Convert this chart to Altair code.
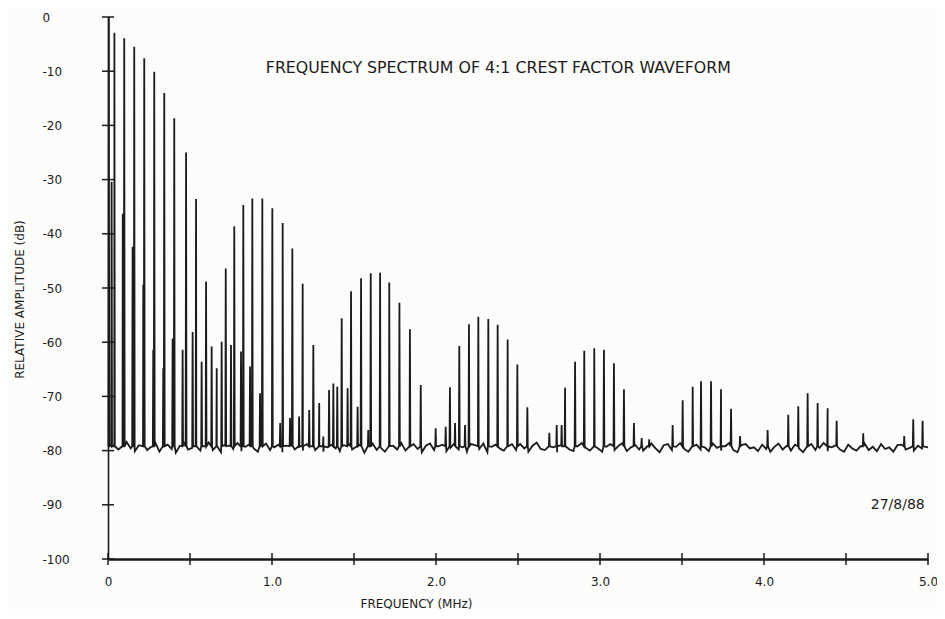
import altair as alt
import pandas as pd

# ---- data -------------------------------------------------------------------
spike_freq = [0.005, 0.022, 0.039, 0.090, 0.099, 0.150, 0.160, 0.215, 0.221, 0.276,
              0.282, 0.337, 0.343, 0.394, 0.404, 0.455, 0.476, 0.516, 0.537, 0.571,
              0.598, 0.632, 0.663, 0.693, 0.718, 0.750, 0.770, 0.811, 0.825, 0.866,
              0.880, 0.927, 0.941, 1.002, 1.050, 1.065, 1.110, 1.124, 1.165, 1.187,
              1.227, 1.252, 1.288, 1.313, 1.348, 1.374, 1.398, 1.425, 1.461, 1.482,
              1.522, 1.543, 1.587, 1.602, 1.659, 1.715, 1.777, 1.841, 1.907, 1.998,
              2.059, 2.085, 2.116, 2.142, 2.177, 2.201, 2.258, 2.319, 2.376, 2.437,
              2.496, 2.557, 2.691, 2.736, 2.766, 2.787, 2.848, 2.904, 2.965, 3.024,
              3.085, 3.146, 3.207, 3.254, 3.300, 3.443, 3.504, 3.565, 3.616, 3.677,
              3.738, 3.799, 3.854, 4.022, 4.148, 4.209, 4.266, 4.327, 4.388, 4.443,
              4.605, 4.855, 4.910, 4.967]
spike_db = [0.0, -30.4, -2.9, -36.3, -3.9, -42.4, -5.5, -49.4, -7.6, -61.4,
            -10.1, -64.8, -14.0, -59.3, -18.7, -61.4, -25.0, -58.1, -33.6, -63.6,
            -48.8, -60.8, -64.8, -59.9, -46.4, -60.5, -38.6, -61.7, -34.7, -64.5,
            -33.5, -69.4, -33.5, -35.3, -74.9, -38.0, -74.0, -42.7, -73.7, -49.2,
            -72.5, -60.5, -71.2, -77.4, -68.8, -67.6, -68.2, -55.6, -68.5, -50.6,
            -71.9, -48.2, -76.2, -47.3, -47.2, -49.0, -52.7, -57.6, -67.9, -75.9,
            -75.6, -68.3, -74.9, -60.7, -75.3, -56.7, -55.3, -55.7, -56.8, -59.5,
            -64.1, -72.0, -76.7, -75.3, -75.3, -68.4, -63.6, -61.6, -61.1, -61.4,
            -63.9, -68.7, -74.9, -77.7, -77.9, -75.3, -70.7, -68.2, -67.2, -67.2,
            -68.7, -72.3, -77.3, -76.2, -73.4, -71.8, -69.4, -71.2, -72.2, -74.5,
            -76.8, -77.3, -74.2, -74.5]

spike_foot_db = -79.2

# noise floor, sampled every 0.025 MHz from 0.0135 MHz
floor_db = [-79.0, -78.6, -79.8, -79.2, -78.4, -79.6, -80.1, -79.0, -78.7, -79.9,
            -79.3, -78.5, -80.2, -79.4, -78.9, -79.7, -80.4, -79.1, -78.6, -79.8,
            -79.5, -78.8, -80.0, -79.2, -78.5, -79.9, -79.4, -80.3, -78.9, -79.1,
            -79.7, -78.6, -80.1, -79.3, -78.8, -79.6, -80.2, -79.0, -78.7, -79.9,
            -79.4, -78.9, -80.3, -79.1, -78.6, -79.8, -79.5, -80.0, -78.8, -79.2,
            -79.9, -78.7, -80.2, -79.4, -78.9, -79.6, -80.1, -79.0, -78.6, -79.8,
            -79.3, -78.8, -80.4, -79.2, -78.7, -79.9, -79.5, -80.2, -78.9, -79.1,
            -79.8, -78.6, -80.0, -79.4, -78.8, -79.7, -80.3, -79.1, -78.7, -79.9,
            -79.2, -78.9, -80.1, -79.5, -78.6, -79.8, -79.4, -80.2, -78.8, -79.0,
            -79.7, -78.7, -80.3, -79.3, -78.9, -79.6, -80.0, -79.2, -78.8, -79.9,
            -78.8, -79.6, -80.2, -79.1, -78.5, -79.7, -79.9, -78.9, -79.4, -80.3,
            -79.0, -78.7, -79.8, -80.1, -79.2, -78.6, -79.5, -80.0, -78.9, -79.6,
            -80.2, -79.3, -78.8, -79.9, -79.1, -78.6, -80.1, -79.4, -78.9, -79.8,
            -80.0, -79.2, -78.7, -79.6, -80.3, -79.0, -78.8, -79.9, -79.3, -78.6,
            -79.7, -80.2, -79.1, -78.9, -79.8, -79.4, -80.1, -78.7, -79.5, -80.0,
            -79.2, -78.6, -79.9, -80.3, -79.0, -78.8, -79.6, -79.4, -80.1, -78.9,
            -79.7, -80.2, -79.3, -78.7, -79.8, -79.1, -80.0, -78.9, -79.6, -80.3,
            -79.2, -78.8, -79.9, -79.5, -78.6, -80.1, -79.4, -79.0, -79.8, -80.2,
            -78.9, -79.6, -80.0, -79.2, -78.7, -79.9, -79.3, -80.1, -78.8, -79.7,
            -79.4, -80.2, -79.0, -78.9, -79.8, -79.5, -80.0, -79.1, -79.6]
floor_start = 0.0135
floor_step = 0.025
floor_end_db = -79.4

x_tick_values = [0, 0.5, 1, 1.5, 2, 2.5, 3, 3.5, 4, 4.5, 5]
x_label_values = [0, 1, 2, 3, 4, 5]
y_tick_values = [0, -10, -20, -30, -40, -50, -60, -70, -80, -90, -100]

title_text = "FREQUENCY SPECTRUM OF 4:1 CREST FACTOR WAVEFORM"
date_text = "27/8/88"

# ---- build trace -------------------------------------------------------------
rows = []
half = 0.0025
for f, d in zip(spike_freq, spike_db):
    rows.append((f - half, spike_foot_db, 1))
    rows.append((f, d, 1))
    rows.append((f + half, spike_foot_db, 1))
for i, d in enumerate(floor_db):
    fx = floor_start + floor_step * i
    if fx < 5.0:
        rows.append((fx, d, 0))
rows.append((5.0, floor_end_db, 0))
trace = pd.DataFrame(rows, columns=["f", "db", "k"]).sort_values(["f", "k"]).reset_index(drop=True)
trace["idx"] = range(len(trace))

INK = "#1b1b1b"
W, H = 820, 542
FONT = "DejaVu Sans"

xscale = alt.Scale(domain=[0, 5], nice=False, zero=False)
yscale = alt.Scale(domain=[-100, 0], nice=False, zero=False)

xaxis = alt.Axis(values=x_label_values,
                 labelExpr="datum.value == 0 ? '0' : format(datum.value, '.1f')",
                 ticks=False, tickSize=0, grid=False, domainColor=INK, domainWidth=2.5,
                 labelFont=FONT, labelFontSize=12, labelColor=INK, labelPadding=22,
                 labelBaseline="middle", labelFlush=False,
                 titleFont=FONT, titleFontSize=12, titleFontWeight="normal", titleColor=INK,
                 titleX=308, titleY=44, titleBaseline="middle", titleAlign="center")
yaxis = alt.Axis(values=y_tick_values, labelExpr="'' + datum.value",
                 ticks=False, tickSize=0, grid=False, domainColor=INK, domainWidth=1.6,
                 labelFont=FONT, labelFontSize=12, labelColor=INK, labelPadding=66,
                 labelAlign="left", labelBaseline="middle",
                 titleFont=FONT, titleFontSize=12, titleFontWeight="normal", titleColor=INK,
                 titleX=-89, titleY=282, titleAngle=-90, titleAlign="center",
                 titleBaseline="middle")

line = alt.Chart(trace).mark_line(color=INK, strokeWidth=1.8, strokeJoin="miter").encode(
    x=alt.X("f:Q", scale=xscale, axis=xaxis, title="FREQUENCY (MHz)"),
    y=alt.Y("db:Q", scale=yscale, axis=yaxis, title="RELATIVE AMPLITUDE (dB)"),
    order="idx:Q",
)

xt = alt.Chart(pd.DataFrame({"f": x_tick_values})).mark_rule(color=INK, strokeWidth=1.5).encode(
    x=alt.X("f:Q", scale=xscale), y=alt.value(H - 6), y2=alt.value(H + 6))
yt = alt.Chart(pd.DataFrame({"db": y_tick_values})).mark_rule(color=INK, strokeWidth=1.5).encode(
    y=alt.Y("db:Q", scale=yscale), x=alt.value(-6), x2=alt.value(6))

title = alt.Chart(pd.DataFrame({"f": [2.38], "db": [-9.4], "t": [title_text]})).mark_text(
    font=FONT, fontSize=15.8, color=INK, align="center", baseline="middle").encode(
    x=alt.X("f:Q", scale=xscale), y=alt.Y("db:Q", scale=yscale), text="t:N")
date = alt.Chart(pd.DataFrame({"f": [4.98], "db": [-90.0], "t": [date_text]})).mark_text(
    font=FONT, fontSize=14, color=INK, align="right", baseline="middle").encode(
    x=alt.X("f:Q", scale=xscale), y=alt.Y("db:Q", scale=yscale), text="t:N")

chart = alt.layer(line, xt, yt, title, date).properties(
    width=W, height=H,
    padding={"left": 100, "top": 9, "right": 9, "bottom": 50},
    autosize=alt.AutoSizeParams(type="none"),
    background="#fcfcfa",
).configure_view(stroke=None)

chart.save("out.html", embed_options={"renderer": "svg", "actions": False})
